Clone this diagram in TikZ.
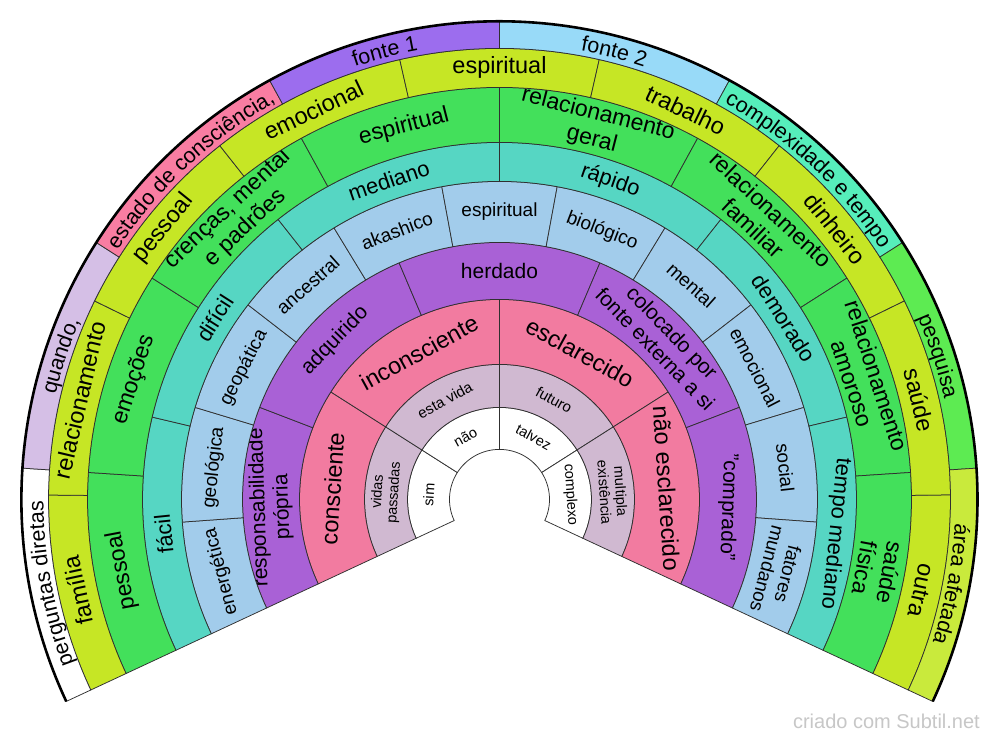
\documentclass[tikz,border=0pt]{standalone}
\usepackage{fontspec}
\setmainfont{Liberation Sans}
\usetikzlibrary{decorations.text}
\definecolor{cWhite}{HTML}{FFFFFF}
\definecolor{cMauve}{HTML}{D0B9D1}
\definecolor{cPink}{HTML}{F27BA0}
\definecolor{cPurple}{HTML}{A961D6}
\definecolor{cBlue}{HTML}{A2CCEB}
\definecolor{cTeal}{HTML}{56D6C3}
\definecolor{cGreen}{HTML}{43E05B}
\definecolor{cYellow}{HTML}{C6E625}
\definecolor{oLav}{HTML}{D5BFE6}
\definecolor{oPink}{HTML}{F97DA2}
\definecolor{oPurple}{HTML}{9C6DEE}
\definecolor{oBlue}{HTML}{98DAF8}
\definecolor{oTeal}{HTML}{56EEBB}
\definecolor{oGreen}{HTML}{5DEB52}
\definecolor{oYellow}{HTML}{C9EA3C}
\definecolor{segline}{HTML}{303030}
\tikzset{
  segborder/.style={draw=segline, line width=0.75pt},
  segtext/.style={inner sep=0pt, align=center, text=black},
  outerrim/.style={draw=black, line width=2.6pt},
  watermark/.style={inner sep=0pt, text=black!22, anchor=base east}
}
\newcommand\ofont{\fontsize{21.5pt}{24pt}\selectfont}
% #1 name, #2 r1, #3 r2, #4 index k, #5 count n, #6 colour, #7 font size, #8 text
\newcommand\wseg[8]{%
  \pgfmathsetmacro\segB{205-230*(#4-1)/#5}%
  \pgfmathsetmacro\segE{205-230*#4/#5}%
  \filldraw[segborder, fill=#6] (\segB:#2pt) arc[start angle=\segB, end angle=\segE, radius=#2pt]
     -- (\segE:#3pt) arc[start angle=\segE, end angle=\segB, radius=#3pt] -- cycle;
  \pgfmathsetmacro\segA{(\segB+\segE)/2}%
  \pgfmathsetmacro\segR{(#2+#3)/2}%
  \pgfmathsetmacro\segT{\segA-90}%
  \pgfmathsetmacro\segL{#7*1.12}%
  \node[segtext, rotate=\segT, font=\fontsize{#7pt}{\segL pt}\selectfont] (#1) at (\segA:\segR pt) {#8};%
}
% outer ring: text set along the arc; #1 k, #2 n, #3 colour, #4 text
\newcommand\oseg[4]{%
  \pgfmathsetmacro\segB{205-230*(#1-1)/#2}%
  \pgfmathsetmacro\segE{205-230*#1/#2}%
  \filldraw[segborder, fill=#3] (\segB:451pt) arc[start angle=\segB, end angle=\segE, radius=451pt]
     -- (\segE:478pt) arc[start angle=\segE, end angle=\segB, radius=478pt] -- cycle;
  \path[decorate, decoration={text along path, text={|\ofont|#4}, text align=center}]
     (\segB:456pt) arc[start angle=\segB, end angle=\segE, radius=456pt];%
}
\begin{document}
\begin{tikzpicture}[x=1pt,y=1pt]
\fill[white] (-499.5,-242.6) rectangle (500.5,499.4);
\useasboundingbox (-499.5,-242.6) rectangle (500.5,499.4);
% ring 1
\wseg{aA}{50}{92}{1}{4}{cWhite}{14.5}{sim}
\wseg{aB}{50}{92}{2}{4}{cWhite}{14.5}{não}
\wseg{aC}{50}{92}{3}{4}{cWhite}{14.5}{talvez}
\wseg{aD}{50}{92}{4}{4}{cWhite}{14.5}{complexo}
% ring 2
\wseg{bA}{92}{135}{1}{4}{cMauve}{14.5}{vidas\\passadas}
\wseg{bB}{92}{135}{2}{4}{cMauve}{15}{esta vida}
\wseg{bC}{92}{135}{3}{4}{cMauve}{15}{futuro}
\wseg{bD}{92}{135}{4}{4}{cMauve}{14.5}{multipla\\existência}
% ring 3
\wseg{cA}{135}{200}{1}{4}{cPink}{23.5}{consciente}
\wseg{cB}{135}{200}{2}{4}{cPink}{23.5}{inconsciente}
\wseg{cC}{135}{200}{3}{4}{cPink}{23.5}{esclarecido}
\wseg{cD}{135}{200}{4}{4}{cPink}{23.5}{não esclarecido}
% ring 4
\wseg{dA}{200}{257}{1}{5}{cPurple}{21}{responsabilidade\\própria}
\wseg{dB}{200}{257}{2}{5}{cPurple}{21}{adquirido}
\wseg{dC}{200}{257}{3}{5}{cPurple}{21}{herdado}
\wseg{dD}{200}{257}{4}{5}{cPurple}{21}{colocado por\\fonte externa a si}
\wseg{dE}{200}{257}{5}{5}{cPurple}{21}{"comprado"}
% ring 5
\wseg{eA}{257}{318}{1}{11}{cBlue}{19}{energética}
\wseg{eB}{257}{318}{2}{11}{cBlue}{19}{geológica}
\wseg{eC}{257}{318}{3}{11}{cBlue}{19}{geopática}
\wseg{eD}{257}{318}{4}{11}{cBlue}{19}{ancestral}
\wseg{eE}{257}{318}{5}{11}{cBlue}{19}{akashico}
\wseg{eF}{257}{318}{6}{11}{cBlue}{19}{espiritual}
\wseg{eG}{257}{318}{7}{11}{cBlue}{19}{biológico}
\wseg{eH}{257}{318}{8}{11}{cBlue}{19}{mental}
\wseg{eI}{257}{318}{9}{11}{cBlue}{19}{emocional}
\wseg{eJ}{257}{318}{10}{11}{cBlue}{19}{social}
\wseg{eK}{257}{318}{11}{11}{cBlue}{19}{fatores\\mundanos}
% ring 6
\wseg{fA}{318}{357}{1}{6}{cTeal}{22}{fácil}
\wseg{fB}{318}{357}{2}{6}{cTeal}{22}{difícil}
\wseg{fC}{318}{357}{3}{6}{cTeal}{22}{mediano}
\wseg{fD}{318}{357}{4}{6}{cTeal}{22}{rápido}
\wseg{fE}{318}{357}{5}{6}{cTeal}{22}{demorado}
\wseg{fF}{318}{357}{6}{6}{cTeal}{22}{tempo mediano}
% ring 7
\wseg{gA}{357}{412}{1}{8}{cGreen}{23}{pessoal}
\wseg{gB}{357}{412}{2}{8}{cGreen}{23}{emoções}
\wseg{gC}{357}{412}{3}{8}{cGreen}{23}{crenças, mental\\e padrões}
\wseg{gD}{357}{412}{4}{8}{cGreen}{23}{espiritual}
\wseg{gE}{357}{412}{5}{8}{cGreen}{23}{relacionamento\\geral}
\wseg{gF}{357}{412}{6}{8}{cGreen}{23}{relacionamento\\familiar}
\wseg{gG}{357}{412}{7}{8}{cGreen}{23}{relacionamento\\amoroso}
\wseg{gH}{357}{412}{8}{8}{cGreen}{23}{saúde\\física}
% ring 8
\wseg{hA}{412}{451}{1}{9}{cYellow}{23.5}{família}
\wseg{hB}{412}{451}{2}{9}{cYellow}{23.5}{relacionamento}
\wseg{hC}{412}{451}{3}{9}{cYellow}{23.5}{pessoal}
\wseg{hD}{412}{451}{4}{9}{cYellow}{23.5}{emocional}
\wseg{hE}{412}{451}{5}{9}{cYellow}{23.5}{espiritual}
\wseg{hF}{412}{451}{6}{9}{cYellow}{23.5}{trabalho}
\wseg{hG}{412}{451}{7}{9}{cYellow}{23.5}{dinheiro}
\wseg{hH}{412}{451}{8}{9}{cYellow}{23.5}{saúde}
\wseg{hI}{412}{451}{9}{9}{cYellow}{23.5}{outra}
% ring 9 (outer)
\oseg{1}{8}{cWhite}{perguntas diretas}
\oseg{2}{8}{oLav}{quando,}
\oseg{3}{8}{oPink}{estado de consciência,}
\oseg{4}{8}{oPurple}{fonte 1}
\oseg{5}{8}{oBlue}{fonte 2}
\oseg{6}{8}{oTeal}{complexidade e tempo}
\oseg{7}{8}{oGreen}{pesquisa}
\oseg{8}{8}{oYellow}{área afetada}
% outer rim
\draw[outerrim] (205:478pt) arc[start angle=205, end angle=-25, radius=478pt];
% watermark
\node[watermark, font=\fontsize{20pt}{22pt}\selectfont] (wm) at (480.5,-228.6) {criado com Subtil.net};
\end{tikzpicture}
\end{document}
